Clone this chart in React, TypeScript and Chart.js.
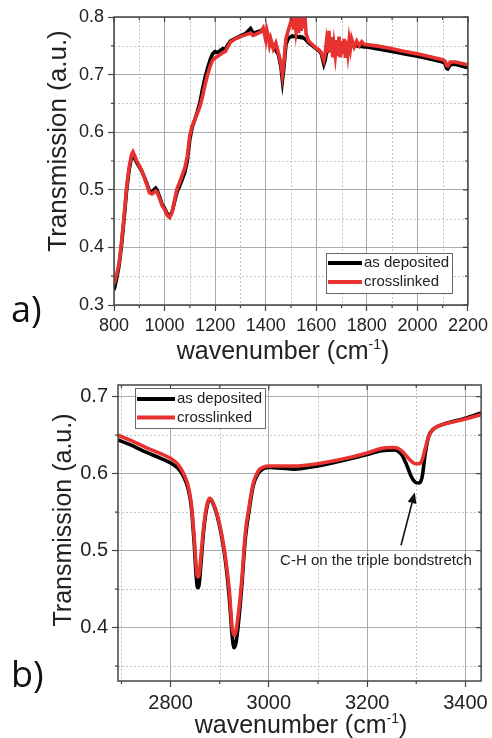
import React, { useEffect, useRef } from "react";
import { Chart, registerables } from "chart.js";
Chart.register(...registerables);

// ---------- Panel a data ----------
const aWavenumber = [
  800, 810, 820, 830, 840, 850, 860, 870, 875, 880,
  890, 900, 910, 920, 930, 940, 950, 960, 965, 970,
  980, 990, 1000, 1010, 1020, 1030, 1040, 1050, 1060, 1070,
  1080, 1090, 1100, 1110, 1120, 1130, 1140, 1150, 1160, 1170,
  1180, 1190, 1200, 1210, 1220, 1230, 1240, 1250, 1260, 1280,
  1300, 1320, 1340, 1350, 1360, 1380, 1390, 1400, 1405, 1410,
  1415, 1420, 1430, 1440, 1450, 1460, 1466, 1472, 1480, 1490,
  1500, 1505, 1510, 1515, 1520, 1525, 1530, 1535, 1540, 1545,
  1550, 1555, 1560, 1570, 1580, 1590, 1600, 1610, 1620, 1630,
  1635, 1640, 1645, 1650, 1655, 1660, 1665, 1670, 1675, 1680,
  1685, 1690, 1695, 1700, 1705, 1710, 1715, 1720, 1725, 1730,
  1735, 1740, 1750, 1760, 1770, 1780, 1790, 1800, 1850, 1900,
  1950, 2000, 2050, 2100, 2110, 2115, 2120, 2130, 2150, 2200,
];
const aAsDeposited = [
  0.326, 0.345, 0.368, 0.405, 0.450, 0.500, 0.535, 0.558, 0.562, 0.556,
  0.547, 0.540, 0.532, 0.522, 0.511, 0.498, 0.496, 0.501, 0.503, 0.500,
  0.488, 0.475, 0.468, 0.459, 0.454, 0.462, 0.480, 0.497, 0.507, 0.518,
  0.530, 0.550, 0.588, 0.610, 0.622, 0.636, 0.652, 0.675, 0.695, 0.711,
  0.725, 0.736, 0.740, 0.738, 0.742, 0.745, 0.744, 0.752, 0.758, 0.763,
  0.767, 0.771, 0.780, 0.772, 0.773, 0.776, 0.779, 0.770, 0.763, 0.766,
  0.758, 0.753, 0.748, 0.742, 0.735, 0.714, 0.690, 0.712, 0.752, 0.763,
  0.766, 0.767, 0.766, 0.767, 0.765, 0.766, 0.765, 0.766, 0.764, 0.765,
  0.763, 0.762, 0.760, 0.755, 0.752, 0.748, 0.745, 0.742, 0.736, 0.718,
  0.725, 0.737, 0.740, 0.742, 0.742, 0.742, 0.744, 0.745, 0.746, 0.748,
  0.752, 0.750, 0.749, 0.750, 0.750, 0.751, 0.751, 0.752, 0.752, 0.751,
  0.751, 0.751, 0.750, 0.750, 0.749, 0.749, 0.748, 0.748, 0.744, 0.740,
  0.736, 0.732, 0.727, 0.722, 0.719, 0.711, 0.710, 0.717, 0.718, 0.712,
];
const aCrosslinked = [
  0.336, 0.352, 0.372, 0.410, 0.455, 0.505, 0.540, 0.562, 0.566, 0.561,
  0.550, 0.542, 0.533, 0.521, 0.509, 0.495, 0.493, 0.496, 0.498, 0.496,
  0.485, 0.473, 0.466, 0.456, 0.452, 0.461, 0.483, 0.503, 0.513, 0.526,
  0.538, 0.558, 0.595, 0.612, 0.622, 0.633, 0.645, 0.662, 0.682, 0.700,
  0.714, 0.725, 0.729, 0.732, 0.735, 0.738, 0.740, 0.748, 0.756, 0.762,
  0.766, 0.769, 0.772, 0.768, 0.770, 0.774, 0.781, 0.760, 0.776, 0.766,
  0.752, 0.762, 0.745, 0.755, 0.738, 0.720, 0.700, 0.722, 0.762, 0.778,
  0.792, 0.806, 0.778, 0.798, 0.774, 0.788, 0.772, 0.808, 0.776, 0.812,
  0.780, 0.802, 0.770, 0.758, 0.754, 0.750, 0.746, 0.743, 0.738, 0.725,
  0.736, 0.756, 0.738, 0.776, 0.740, 0.765, 0.730, 0.752, 0.734, 0.760,
  0.732, 0.766, 0.730, 0.758, 0.736, 0.762, 0.729, 0.759, 0.738, 0.760,
  0.745, 0.762, 0.748, 0.758, 0.750, 0.757, 0.752, 0.752, 0.749, 0.745,
  0.740, 0.736, 0.731, 0.726, 0.723, 0.716, 0.715, 0.722, 0.722, 0.717,
];
const aXTicks = [800, 1000, 1200, 1400, 1600, 1800, 2000, 2200];
const aXMinor = [900, 1100, 1300, 1500, 1700, 1900, 2100];
const aYTicks = [0.3, 0.4, 0.5, 0.6, 0.7, 0.8];
const aYMinor = [0.35, 0.45, 0.55, 0.65, 0.75];

// ---------- Panel b data ----------
const bWavenumber = [
  2693, 2720, 2750, 2780, 2800, 2815, 2825, 2835, 2842, 2848,
  2852, 2855, 2858, 2862, 2868, 2875, 2880, 2886, 2895, 2905,
  2913, 2920, 2925, 2929, 2933, 2938, 2945, 2952, 2960, 2968,
  2978, 2990, 3000, 3050, 3100, 3150, 3200, 3230, 3255, 3270,
  3280, 3290, 3298, 3306, 3312, 3318, 3325, 3335, 3350, 3400, 3432,
];
const bAsDeposited = [
  0.644, 0.637, 0.628, 0.620, 0.614, 0.607, 0.598, 0.582, 0.558, 0.510,
  0.468, 0.452, 0.456, 0.485, 0.530, 0.560, 0.567, 0.562, 0.545, 0.515,
  0.480, 0.435, 0.392, 0.374, 0.380, 0.405, 0.455, 0.515, 0.553, 0.584,
  0.600, 0.607, 0.608, 0.606, 0.610, 0.617, 0.625, 0.630, 0.631, 0.625,
  0.612, 0.596, 0.589, 0.588, 0.596, 0.625, 0.648, 0.658, 0.663, 0.672, 0.679,
];
const bCrosslinked = [
  0.650, 0.643, 0.634, 0.626, 0.620, 0.612, 0.602, 0.586, 0.562, 0.518,
  0.480, 0.466, 0.469, 0.495, 0.535, 0.562, 0.568, 0.563, 0.547, 0.518,
  0.485, 0.445, 0.402, 0.390, 0.395, 0.418, 0.462, 0.522, 0.558, 0.587,
  0.603, 0.609, 0.610, 0.610, 0.613, 0.619, 0.627, 0.633, 0.634, 0.630,
  0.623, 0.616, 0.613, 0.613, 0.618, 0.632, 0.648, 0.658, 0.663, 0.671, 0.677,
];
const bXTicks = [2800, 3000, 3200, 3400];
const bXMinor = [2700, 2900, 3100, 3300];
const bYTicks = [0.4, 0.5, 0.6, 0.7];
const bYMinor = [0.35, 0.45, 0.55, 0.65];
const bNoteText = "C-H on the triple bondstretch";
const bNoteAt = [3218, 0.487];
const bArrowFrom = [3269, 0.507];
const bArrowTo = [3297, 0.576];

const seriesNames = ["as deposited", "crosslinked"];
const seriesColors = ["#000000", "#e8322f"];

const FONT = '"Liberation Sans", Arial, sans-serif';
const PANEL_FONT = '"Open Sans", "Liberation Sans", sans-serif';

type Layout = {
  yAxisWidth: number;
  xAxisHeight: number;
  padTop: number;
  padRight: number;
  tickSize: number;
  yMin: number;
  yMax: number;
  xMin: number;
  xMax: number;
  xTicks: number[];
  yTicks: number[];
  xMinor: number[];
  yMinor: number[];
  yTitle: { x: number; y: number; size: number };
  xTitle: { x: number; y: number; size: number };
  panel: { text: string; x: number; y: number; size: number };
  legend: { x: number; y: number; w: number; h: number; r1: number; r2: number; line: number; size: number };
  note?: { text: string; at: number[]; from: number[]; to: number[]; size: number };
};

function makeExtras(L: Layout) {
  return {
    id: "extras",
    beforeDatasetsDraw(chart: any) {
      const { ctx, chartArea: ca, scales } = chart;
      const x = scales.x, y = scales.y;
      ctx.save();
      ctx.strokeStyle = "#c4c4c4";
      ctx.lineWidth = 1;
      ctx.setLineDash([2, 2]);
      L.xMinor.forEach((v) => {
        const px = Math.round(x.getPixelForValue(v)) + 0.5;
        if (px < ca.left || px > ca.right) return;
        ctx.beginPath(); ctx.moveTo(px, ca.top); ctx.lineTo(px, ca.bottom); ctx.stroke();
      });
      L.yMinor.forEach((v) => {
        const py = Math.round(y.getPixelForValue(v)) + 0.5;
        ctx.beginPath(); ctx.moveTo(ca.left, py); ctx.lineTo(ca.right, py); ctx.stroke();
      });
      ctx.restore();
    },
    afterDraw(chart: any) {
      const { ctx, chartArea: ca, scales } = chart;
      const x = scales.x, y = scales.y;
      ctx.save();
      // frame
      ctx.strokeStyle = "#444";
      ctx.lineWidth = 1.5;
      ctx.strokeRect(ca.left, ca.top, ca.right - ca.left, ca.bottom - ca.top);
      // ticks
      ctx.lineWidth = 1.2;
      ctx.beginPath();
      L.xTicks.forEach((v) => {
        const px = x.getPixelForValue(v);
        ctx.moveTo(px, ca.top); ctx.lineTo(px, ca.top + 5);
      });
      L.xMinor.forEach((v) => {
        const px = x.getPixelForValue(v);
        if (px < ca.left || px > ca.right) return;
        ctx.moveTo(px, ca.top); ctx.lineTo(px, ca.top + 3);
        ctx.moveTo(px, ca.bottom); ctx.lineTo(px, ca.bottom + 3);
      });
      L.yTicks.forEach((v) => {
        const py = y.getPixelForValue(v);
        ctx.moveTo(ca.right, py); ctx.lineTo(ca.right - 5, py);
      });
      L.yMinor.forEach((v) => {
        const py = y.getPixelForValue(v);
        ctx.moveTo(ca.right, py); ctx.lineTo(ca.right - 3, py);
        ctx.moveTo(ca.left, py); ctx.lineTo(ca.left - 3, py);
      });
      ctx.stroke();

      ctx.fillStyle = "#222";
      // y title
      ctx.save();
      ctx.translate(L.yTitle.x, L.yTitle.y);
      ctx.rotate(-Math.PI / 2);
      ctx.font = `${L.yTitle.size}px ${FONT}`;
      ctx.textAlign = "center";
      ctx.textBaseline = "middle";
      ctx.fillText("Transmission (a.u.)", 0, 0);
      ctx.restore();

      // x title with superscript
      const main = "wavenumber (cm";
      const sup = "-1";
      const end = ")";
      const fs = L.xTitle.size;
      ctx.font = `${fs}px ${FONT}`;
      const w1 = ctx.measureText(main).width;
      const w3 = ctx.measureText(end).width;
      ctx.font = `${Math.round(fs * 0.55)}px ${FONT}`;
      const w2 = ctx.measureText(sup).width;
      let tx = L.xTitle.x - (w1 + w2 + w3) / 2;
      ctx.textAlign = "left";
      ctx.textBaseline = "alphabetic";
      ctx.font = `${fs}px ${FONT}`;
      ctx.fillText(main, tx, L.xTitle.y);
      tx += w1;
      ctx.font = `${Math.round(fs * 0.55)}px ${FONT}`;
      ctx.fillText(sup, tx, L.xTitle.y - fs * 0.42);
      tx += w2;
      ctx.font = `${fs}px ${FONT}`;
      ctx.fillText(end, tx, L.xTitle.y);

      // panel label
      ctx.fillStyle = "#111";
      ctx.font = `${L.panel.size}px ${PANEL_FONT}`;
      ctx.fillText(L.panel.text, L.panel.x, L.panel.y);

      // legend
      const lg = L.legend;
      ctx.fillStyle = "#fff";
      ctx.fillRect(lg.x, lg.y, lg.w, lg.h);
      ctx.strokeStyle = "#666";
      ctx.lineWidth = 1;
      ctx.strokeRect(lg.x + 0.5, lg.y + 0.5, lg.w, lg.h);
      [lg.r1, lg.r2].forEach((ry, i) => {
        ctx.strokeStyle = seriesColors[i];
        ctx.lineWidth = 4;
        ctx.beginPath();
        ctx.moveTo(lg.x + 2, ry);
        ctx.lineTo(lg.x + 2 + lg.line, ry);
        ctx.stroke();
        ctx.fillStyle = "#222";
        ctx.font = `${lg.size}px ${FONT}`;
        ctx.textBaseline = "middle";
        ctx.textAlign = "left";
        ctx.fillText(seriesNames[i], lg.x + 4 + lg.line, ry);
      });

      // annotation
      if (L.note) {
        const n = L.note;
        ctx.fillStyle = "#222";
        ctx.font = `${n.size}px ${FONT}`;
        ctx.textAlign = "center";
        ctx.textBaseline = "middle";
        ctx.fillText(n.text, x.getPixelForValue(n.at[0]), y.getPixelForValue(n.at[1]));
        const x0 = x.getPixelForValue(n.from[0]), y0 = y.getPixelForValue(n.from[1]);
        const x1 = x.getPixelForValue(n.to[0]), y1 = y.getPixelForValue(n.to[1]);
        const ang = Math.atan2(y1 - y0, x1 - x0);
        const hl = 11, hw = 4.5;
        const bx = x1 - hl * Math.cos(ang), by = y1 - hl * Math.sin(ang);
        ctx.strokeStyle = "#111";
        ctx.lineWidth = 1.6;
        ctx.beginPath(); ctx.moveTo(x0, y0); ctx.lineTo(bx, by); ctx.stroke();
        ctx.fillStyle = "#111";
        ctx.beginPath();
        ctx.moveTo(x1, y1);
        ctx.lineTo(bx + hw * Math.sin(ang), by - hw * Math.cos(ang));
        ctx.lineTo(bx - hw * Math.sin(ang), by + hw * Math.cos(ang));
        ctx.closePath();
        ctx.fill();
      }
      ctx.restore();
    },
  };
}

function buildConfig(wave: number[], s1: number[], s2: number[], L: Layout, smooth: boolean): any {
  const mk = (vals: number[], i: number) => ({
    label: seriesNames[i],
    data: wave.map((w, k) => ({ x: w, y: vals[k] })),
    borderColor: seriesColors[i],
    backgroundColor: seriesColors[i],
    borderWidth: 3.6,
    pointRadius: 0,
    fill: false,
    tension: 0,
    order: i === 0 ? 1 : 0,
    cubicInterpolationMode: smooth ? "monotone" : "default",
  });
  return {
    type: "line",
    data: { datasets: [mk(s1, 0), mk(s2, 1)] },
    options: {
      responsive: false,
      animation: false,
      events: [],
      layout: { padding: { top: L.padTop, right: L.padRight, left: 0, bottom: 0 } },
      plugins: { legend: { display: false }, tooltip: { enabled: false } },
      scales: {
        x: {
          type: "linear",
          min: L.xMin,
          max: L.xMax,
          afterBuildTicks: (s: any) => { s.ticks = L.xTicks.map((v) => ({ value: v })); },
          afterFit: (s: any) => { s.height = L.xAxisHeight; },
          ticks: {
            color: "#222",
            font: { family: FONT, size: L.tickSize },
            padding: 4,
            maxRotation: 0,
            autoSkip: false,
            callback: (v: any) => String(v),
          },
          grid: { color: "#ababab", lineWidth: 1, tickColor: "#444", tickLength: 6, tickWidth: 1.2 },
          border: { display: false },
        },
        y: {
          type: "linear",
          min: L.yMin,
          max: L.yMax,
          afterBuildTicks: (s: any) => { s.ticks = L.yTicks.map((v) => ({ value: v })); },
          afterFit: (s: any) => { s.width = L.yAxisWidth; },
          ticks: {
            color: "#222",
            font: { family: FONT, size: L.tickSize },
            padding: 4,
            autoSkip: false,
            callback: (v: any) => Number(v).toFixed(1),
          },
          grid: { color: "#ababab", lineWidth: 1, tickColor: "#444", tickLength: 6, tickWidth: 1.2 },
          border: { display: false },
        },
      },
    },
    plugins: [makeExtras(L)],
  };
}

const layoutA: Layout = {
  yAxisWidth: 114, xAxisHeight: 64, padTop: 17, padRight: 21, tickSize: 18,
  yMin: 0.3, yMax: 0.8, xMin: 800, xMax: 2200,
  xTicks: aXTicks, yTicks: aYTicks, xMinor: aXMinor, yMinor: aYMinor,
  yTitle: { x: 59, y: 141, size: 26 },
  xTitle: { x: 283, y: 359, size: 25 },
  panel: { text: "a)", x: 11, y: 322, size: 36 },
  legend: { x: 326, y: 253, w: 126, h: 40, r1: 263, r2: 282, line: 34, size: 15 },
};

const layoutB: Layout = {
  yAxisWidth: 118, xAxisHeight: 57, padTop: 16, padRight: 8, tickSize: 20,
  yMin: 0.3308, yMax: 0.7152, xMin: 2693, xMax: 3432,
  xTicks: bXTicks, yTicks: bYTicks, xMinor: bXMinor, yMinor: bYMinor,
  yTitle: { x: 64, y: 151, size: 25 },
  xTitle: { x: 301, y: 364, size: 25 },
  panel: { text: "b)", x: 11, y: 318, size: 36 },
  legend: { x: 135, y: 19, w: 130, h: 40, r1: 30, r2: 48.5, line: 38, size: 15 },
  note: { text: bNoteText, at: bNoteAt, from: bArrowFrom, to: bArrowTo, size: 15 },
};

export default function App() {
  const refA = useRef<HTMLCanvasElement | null>(null);
  const refB = useRef<HTMLCanvasElement | null>(null);
  useEffect(() => {
    const ca = new Chart(refA.current as HTMLCanvasElement, buildConfig(aWavenumber, aAsDeposited, aCrosslinked, layoutA, false));
    const cb = new Chart(refB.current as HTMLCanvasElement, buildConfig(bWavenumber, bAsDeposited, bCrosslinked, layoutB, true));
    return () => { ca.destroy(); cb.destroy(); };
  }, []);
  return (
    <div style={{ position: "absolute", left: 0, top: 0, width: 492, height: 738, background: "#fff" }}>
      <canvas ref={refA} width={492} height={369} style={{ display: "block", width: 492, height: 369 }} />
      <canvas ref={refB} width={492} height={369} style={{ display: "block", width: 492, height: 369 }} />
    </div>
  );
}
